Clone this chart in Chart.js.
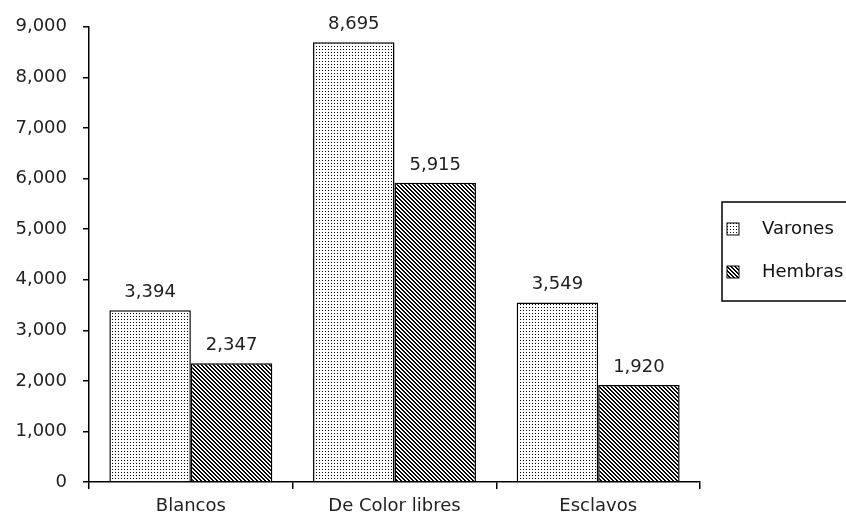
<!DOCTYPE html>
<html>
<head>
<meta charset="utf-8">
<script src="https://cdn.jsdelivr.net/npm/chart.js@4/dist/chart.umd.min.js"></script>
<style>
  html, body { margin: 0; padding: 0; background: #fff; }
  #wrap { width: 846px; height: 525px; }
</style>
</head>
<body>
<div id="wrap"><canvas id="chart" width="846" height="525"></canvas></div>
<script>
var categories = ['Blancos', 'De Color libres', 'Esclavos'];
var varones = [3394, 8695, 3549];
var hembras = [2347, 5915, 1920];
var yTicks = [0, 1000, 2000, 3000, 4000, 5000, 6000, 7000, 8000, 9000];

var FONT = '"DejaVu Sans", Verdana, sans-serif';

function dotPattern() {
  var c = document.createElement('canvas');
  c.width = 3; c.height = 3;
  var g = c.getContext('2d');
  g.fillStyle = '#fff';
  g.fillRect(0, 0, 3, 3);
  g.fillStyle = '#000';
  g.fillRect(1, 1, 1, 1);
  return g.createPattern(c, 'repeat');
}

function stripePattern() {
  var c = document.createElement('canvas');
  c.width = 4; c.height = 4;
  var g = c.getContext('2d');
  g.fillStyle = '#fff';
  g.fillRect(0, 0, 4, 4);
  g.fillStyle = '#000';
  for (var i = 0; i < 4; i++) {
    g.fillRect(i, i, 1, 1);
    g.fillRect((i + 1) % 4, i, 1, 1);
  }
  return g.createPattern(c, 'repeat');
}

var fmt = function(v) { return v.toLocaleString('en-US'); };

var valueLabels = {
  id: 'valueLabels',
  afterDatasetsDraw: function(chart) {
    var ctx = chart.ctx;
    ctx.save();
    ctx.font = '18px ' + FONT;
    ctx.fillStyle = '#222';
    ctx.textAlign = 'center';
    ctx.textBaseline = 'alphabetic';
    chart.data.datasets.forEach(function(ds, i) {
      chart.getDatasetMeta(i).data.forEach(function(bar, j) {
        ctx.fillText(fmt(ds.data[j]), bar.x, bar.y - 13);
      });
    });
    ctx.restore();
  }
};

var boxLegend = {
  id: 'boxLegend',
  afterDraw: function(chart) {
    var ctx = chart.ctx;
    var x = 722, y = 202, w = 140, h = 99;
    ctx.save();
    ctx.strokeStyle = '#000';
    ctx.lineWidth = 1.5;
    ctx.strokeRect(x, y, w, h);
    ctx.font = '18px ' + FONT;
    ctx.textBaseline = 'middle';
    chart.data.datasets.forEach(function(ds, i) {
      var cy = y + 27 + i * 43;
      ctx.fillStyle = ds.backgroundColor;
      ctx.fillRect(x + 5, cy - 6, 12, 12);
      ctx.strokeStyle = '#000';
      ctx.lineWidth = 1;
      ctx.strokeRect(x + 5, cy - 6, 12, 12);
      ctx.fillStyle = '#111';
      ctx.fillText(ds.label, x + 40, cy);
    });
    ctx.restore();
  }
};

new Chart(document.getElementById('chart'), {
  type: 'bar',
  data: {
    labels: categories,
    datasets: [
      { label: 'Varones', data: varones, backgroundColor: dotPattern(), borderColor: '#000', borderWidth: 1.5 },
      { label: 'Hembras', data: hembras, backgroundColor: stripePattern(), borderColor: '#000', borderWidth: 1.5 }
    ]
  },
  options: {
    responsive: false,
    animation: false,
    layout: { padding: { top: 12, right: 146, bottom: 3, left: 0 } },
    datasets: { bar: { categoryPercentage: 0.8, barPercentage: 1.0 } },
    plugins: { legend: { display: false }, tooltip: { enabled: false } },
    scales: {
      x: {
        afterFit: function(s) { s.height = 40; },
        grid: { drawOnChartArea: false, offset: true, color: '#000', tickLength: 7, lineWidth: 1.5 },
        border: { color: '#000', width: 1.5 },
        ticks: { color: '#222', padding: 7, font: { family: FONT, size: 18 } }
      },
      y: {
        min: 0, max: 9000,
        afterFit: function(s) { s.width = 89; },
        afterBuildTicks: function(s) { s.ticks = yTicks.map(function(v) { return { value: v }; }); },
        grid: { drawOnChartArea: false, color: '#000', tickLength: 6, lineWidth: 1.5 },
        border: { color: '#000', width: 1.5 },
        ticks: {
          color: '#222', padding: 16,
          font: { family: FONT, size: 18 },
          callback: function(v) { return fmt(v); }
        }
      }
    }
  },
  plugins: [valueLabels, boxLegend]
});
</script>
</body>
</html>
